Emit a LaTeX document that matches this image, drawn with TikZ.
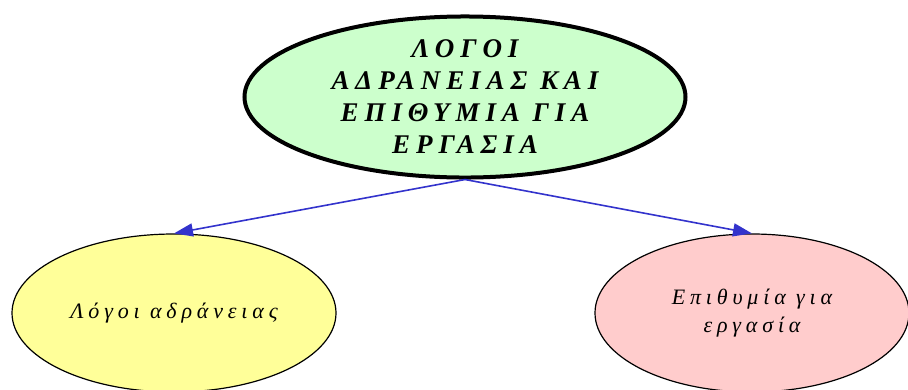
\documentclass[tikz,border=0pt]{standalone}
\usepackage{fontspec}
\setmainfont{Liberation Serif}
\newfontfamily\spaced[LetterSpace=22]{Liberation Serif}
\usetikzlibrary{shapes.geometric,arrows.meta}

\begin{document}
\begin{tikzpicture}[x=1pt,y=-1pt,
  oval/.style={ellipse,draw,inner sep=0pt,align=center,font=\spaced\itshape},
  arr/.style={-{Triangle[length=19pt,width=13pt]},draw={rgb,255:red,51;green,51;blue,204},
    fill={rgb,255:red,51;green,51;blue,204},line width=1.6pt}]
\useasboundingbox (0,0) rectangle (908,389);
\node[oval,line width=4pt,fill={rgb,255:red,204;green,255;blue,204},
  minimum width=441pt,minimum height=156pt,font=\spaced\bfseries\itshape\fontsize{27}{32}\selectfont]
  (logoi) at (465,97) {ΛΟΓΟΙ\\ΑΔΡΑΝΕΙΑΣ ΚΑΙ\\ΕΠΙΘΥΜΙΑ ΓΙΑ\\ΕΡΓΑΣΙΑ};
\node[oval,line width=1.2pt,fill={rgb,255:red,255;green,255;blue,153},
  minimum width=324pt,minimum height=158pt,font=\spaced\itshape\fontsize{22}{28}\selectfont]
  (adraneia) at (174,313) {Λόγοι αδράνειας};
\node[oval,line width=1.2pt,fill={rgb,255:red,255;green,204;blue,204},
  minimum width=314pt,minimum height=158pt,font=\spaced\itshape\fontsize{22}{28}\selectfont]
  (epithymia) at (752,313) {Επιθυμία για\\εργασία};
\draw[arr] (logoi.south) -- (adraneia.north);
\draw[arr] (logoi.south) -- (epithymia.north);
\end{tikzpicture}
\end{document}
